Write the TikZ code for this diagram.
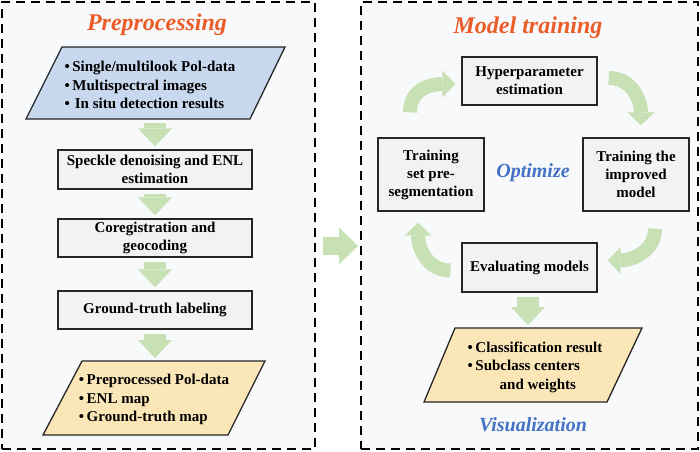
\documentclass[tikz,border=0pt]{standalone}
\usepackage{fontspec}
\setmainfont{Liberation Serif}
\usetikzlibrary{arrows.meta,calc,positioning}

\definecolor{titleorange}{RGB}{236,92,40}
\definecolor{labelblue}{RGB}{68,114,196}
\definecolor{inblue}{RGB}{200,216,238}
\definecolor{outyellow}{RGB}{251,230,184}
\definecolor{boxgray}{RGB}{242,242,242}
\definecolor{arrowgreen}{RGB}{199,225,181}
\definecolor{panelbg}{RGB}{247,249,251}

\begin{document}
\begin{tikzpicture}[x=1pt,y=-1pt]
\useasboundingbox (0,0) rectangle (700,451);

%STYLES
\tikzstyle{panel}=[draw,line width=2pt,dash pattern=on 9pt off 6pt,fill=panelbg]
\tikzstyle{titletext}=[font=\fontsize{24}{28}\selectfont\bfseries\itshape]
\tikzstyle{notetext}=[font=\fontsize{20}{24}\selectfont\bfseries\itshape,text=labelblue]
\tikzstyle{stepbox}=[draw=black!85,line width=1.3pt,fill=boxgray,align=center,inner sep=0pt,font=\fontsize{15}{18}\selectfont\bfseries]
\tikzstyle{listtext}=[align=left,inner sep=0pt,font=\fontsize{15}{18.5}\selectfont\bfseries]
\tikzstyle{datashape}=[draw=black!85,line width=1.3pt,line join=miter]
\tikzstyle{blockdown}=[color=arrowgreen,line width=22pt,-{Triangle[length=18pt,width=34pt,line width=0pt]},shorten <=4pt,shorten >=3pt]
\tikzstyle{blockright}=[color=arrowgreen,line width=18pt,-{Triangle[length=19pt,width=37pt,line width=0pt]}]
\tikzstyle{cyclearrow}=[color=arrowgreen,line width=14pt,-{Triangle[length=13pt,width=27pt,line width=0pt]}]

%%%%%%%%%%%%%%%%%%%%%%%%%%%%%%%%%%%%%%%%%%%%%%%%%%%%%%%%%%%%%%
%PANELS
\node[panel,minimum width=313pt,minimum height=447pt] (prep) at (158.5,225.5) {};
\node[panel,minimum width=337pt,minimum height=447pt] (train) at (529.5,225.5) {};
\node[titletext,text=titleorange] (preptitle) at (157,25) {Preprocessing};
\node[titletext,text=titleorange] (traintitle) at (528,28) {Model training};

%%%%%%%%%%%%%%%%%%%%%%%%%%%%%%%%%%%%%%%%%%%%%%%%%%%%%%%%%%%%%%
%PREPROCESSING
%input data
\coordinate (in1) at (62,47);
\coordinate (in2) at (285,47);
\coordinate (in3) at (250,119);
\coordinate (in4) at (26,119);
\draw[datashape,fill=inblue] (in1) -- (in2) -- (in3) -- (in4) -- cycle;
\node[listtext] (input) at (150,85) {\textbullet\,Single/multilook Pol-data\\
  \textbullet\,Multispectral images\\
  \textbullet\,\,In situ detection results};
\coordinate (inbot) at (155,119);

%steps
\node[stepbox,minimum width=194pt,minimum height=39pt] (speckle) at (155,169.5) {Speckle denoising and ENL\\estimation};
\node[stepbox,minimum width=194pt,minimum height=38pt] (coreg) at (155,238) {Coregistration and\\geocoding};
\node[stepbox,minimum width=194pt,minimum height=38pt] (label) at (155,310) {Ground-truth labeling};

%output data
\coordinate (out1) at (82,361);
\coordinate (out2) at (265,361);
\coordinate (out3) at (228,435);
\coordinate (out4) at (43,435);
\draw[datashape,fill=outyellow] (out1) -- (out2) -- (out3) -- (out4) -- cycle;
\node[listtext] (output) at (154,399.5) {\textbullet\,Preprocessed Pol-data\\
  \textbullet\,ENL map\\
  \textbullet\,Ground-truth map};
\coordinate (outtop) at (155,361);

%%%%%%%%%%%%%%%%%%%%%%%%%%%%%%%%%%%%%%%%%%%%%%%%%%%%%%%%%%%%%%
%MODEL TRAINING
\node[stepbox,minimum width=135pt,minimum height=48pt] (hyper) at (529.5,81) {Hyperparameter\\estimation};
\node[stepbox,minimum width=106pt,minimum height=73pt] (trainset) at (431,174.5) {Training\\set pre-\\segmentation};
\node[stepbox,minimum width=106pt,minimum height=73pt] (trainimp) at (636,174.5) {Training the\\improved\\model};
\node[stepbox,minimum width=135pt,minimum height=49pt] (evaluate) at (529.5,267.5) {Evaluating models};
\node[notetext] (optimize) at (533,173) {Optimize};

%result data
\coordinate (res1) at (455,328);
\coordinate (res2) at (642,328);
\coordinate (res3) at (607,402);
\coordinate (res4) at (424,402);
\draw[datashape,fill=outyellow] (res1) -- (res2) -- (res3) -- (res4) -- cycle;
\node[listtext] (result) at (535,367) {\textbullet\,Classification result\\
  \textbullet\,Subclass centers\\
  \hspace*{32pt}and weights};
\coordinate (restop) at (528,328);
\node[notetext] (visual) at (533,425) {Visualization};

%%%%%%%%%%%%%%%%%%%%%%%%%%%%%%%%%%%%%%%%%%%%%%%%%%%%%%%%%%%%%%
%ARROWS
\draw[blockdown] (inbot) -- (speckle.north);
\draw[blockdown] (speckle.south) -- (coreg.north);
\draw[blockdown] (coreg.south) -- (label.north);
\draw[blockdown] (label.south) -- (outtop);
\draw[blockdown] ([xshift=-1.5pt]evaluate.south) -- (restop);
%prep->train
\draw[blockright] ($(prep.east)+(7,20.5)$) -- ($(train.west)+(-2,20.5)$);
%cycle
\draw[cyclearrow] ([xshift=-21pt,yshift=25pt]trainset.north) .. controls +(0,-26) and +(-20,0) .. ([xshift=-6pt,yshift=-3pt]hyper.west);
\draw[cyclearrow] ([xshift=11pt,yshift=3pt]hyper.east) .. controls +(24,0) and +(0,-24) .. ([xshift=5pt,yshift=12pt]trainimp.north);
\draw[cyclearrow] ([xshift=19pt,yshift=-17pt]trainimp.south) .. controls +(0,24) and +(22,0) .. ([xshift=10pt,yshift=7pt]evaluate.east);
\draw[cyclearrow] ([xshift=-11pt,yshift=-3pt]evaluate.west) .. controls +(-24,0) and +(0,24) .. ([xshift=-13pt,yshift=-11pt]trainset.south);
\end{tikzpicture}
\end{document}
